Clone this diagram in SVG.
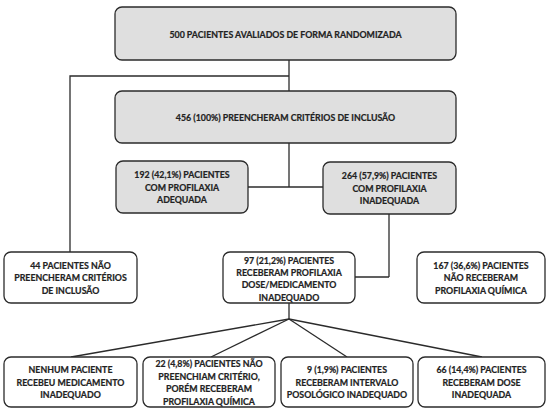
<svg xmlns="http://www.w3.org/2000/svg" width="546" height="408" viewBox="0 0 546 408">
<style>
.box{stroke:#2b2b2b;stroke-width:1.3;}
.g{fill:#dfdfdf;}
.w{fill:#ffffff;}
.t{font-family:Lato,"Liberation Sans",sans-serif;font-weight:bold;font-size:8.8px;fill:#222222;stroke:#222222;stroke-width:0.2;text-anchor:middle;dominant-baseline:central;}
.c{fill:none;stroke:#2b2b2b;stroke-width:1.3;}
</style>
<rect width="546" height="408" fill="#ffffff"/>
<g id="connectors">
<path class="c" d="M289 60 V91"/>
<path class="c" d="M289 76 H70 V252"/>
<path class="c" d="M289 143 V187"/>
<path class="c" d="M248 187 H323"/>
<path class="c" d="M389 214 V277"/>
<path class="c" d="M355 277 H389"/>
<path class="c" d="M289 303 V319"/>
<path class="c" d="M289 319 L71 357"/>
<path class="c" d="M289 319 L211 357"/>
<path class="c" d="M289 319 L347 357"/>
<path class="c" d="M289 319 L482 357"/>
</g>
<g id="n500">
<rect class="box g" x="115" y="7" width="341" height="53" rx="7"/>
<text class="t" x="285.5" y="34">500 PACIENTES AVALIADOS DE FORMA RANDOMIZADA</text>
</g>
<g id="n456">
<rect class="box g" x="115" y="91" width="341" height="52" rx="7"/>
<text class="t" x="285.5" y="117.5">456 (100%) PREENCHERAM CRITÉRIOS DE INCLUSÃO</text>
</g>
<g id="n192">
<rect class="box g" x="116" y="161" width="132" height="52" rx="7"/>
<text class="t" x="182" y="174.5">192 (42,1%) PACIENTES</text>
<text class="t" x="182" y="187">COM PROFILAXIA</text>
<text class="t" x="182" y="199.5">ADEQUADA</text>
</g>
<g id="n264">
<rect class="box g" x="323" y="162" width="133" height="52" rx="7"/>
<text class="t" x="389.5" y="175.5">264 (57,9%) PACIENTES</text>
<text class="t" x="389.5" y="188">COM PROFILAXIA</text>
<text class="t" x="389.5" y="200.5">INADEQUADA</text>
</g>
<g id="n44">
<rect class="box w" x="4" y="252" width="133" height="51" rx="7"/>
<text class="t" x="70.5" y="265">44 PACIENTES NÃO</text>
<text class="t" x="70.5" y="277.5">PREENCHERAM CRITÉRIOS</text>
<text class="t" x="70.5" y="290">DE INCLUSÃO</text>
</g>
<g id="n97">
<rect class="box w" x="223" y="252" width="132" height="51" rx="7"/>
<text class="t" x="289" y="260">97 (21,2%) PACIENTES</text>
<text class="t" x="289" y="272.4">RECEBERAM PROFILAXIA</text>
<text class="t" x="289" y="284.8">DOSE/MEDICAMENTO</text>
<text class="t" x="289" y="297.2">INADEQUADO</text>
</g>
<g id="n167">
<rect class="box w" x="417" y="252" width="128" height="51" rx="7"/>
<text class="t" x="481" y="265">167 (36,6%) PACIENTES</text>
<text class="t" x="481" y="277.5">NÃO RECEBERAM</text>
<text class="t" x="481" y="290">PROFILAXIA QUÍMICA</text>
</g>
<g id="nNenhum">
<rect class="box w" x="4" y="357" width="133" height="50" rx="7"/>
<text class="t" x="70.5" y="369.5">NENHUM PACIENTE</text>
<text class="t" x="70.5" y="382">RECEBEU MEDICAMENTO</text>
<text class="t" x="70.5" y="394.5">INADEQUADO</text>
</g>
<g id="n22">
<rect class="box w" x="143" y="357" width="132" height="50" rx="7"/>
<text class="t" x="209" y="363.5">22 (4,8%) PACIENTES NÃO</text>
<text class="t" x="209" y="376">PREENCHIAM CRITÉRIO,</text>
<text class="t" x="209" y="388.5">PORÉM RECEBERAM</text>
<text class="t" x="209" y="401">PROFILAXIA QUÍMICA</text>
</g>
<g id="n9">
<rect class="box w" x="281" y="357" width="132" height="50" rx="7"/>
<text class="t" x="347" y="369.5">9 (1,9%) PACIENTES</text>
<text class="t" x="347" y="382">RECEBERAM INTERVALO</text>
<text class="t" x="347" y="394.5">POSOLÓGICO INADEQUADO</text>
</g>
<g id="n66">
<rect class="box w" x="418" y="357" width="127" height="50" rx="7"/>
<text class="t" x="481.5" y="369.5">66 (14,4%) PACIENTES</text>
<text class="t" x="481.5" y="382">RECEBERAM DOSE</text>
<text class="t" x="481.5" y="394.5">INADEQUADA</text>
</g>
</svg>
